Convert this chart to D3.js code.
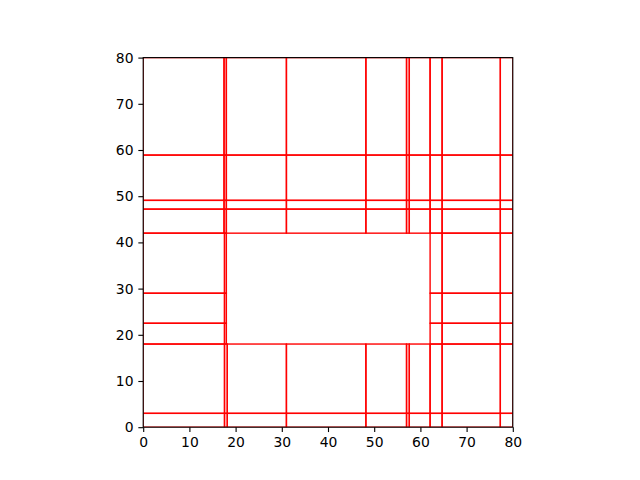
<!DOCTYPE html>
<html>
<head>
<meta charset="utf-8">
<script src="https://cdn.jsdelivr.net/npm/d3@7"></script>
<style>
  html,body{margin:0;padding:0;background:#fff;}
  svg{display:block;}
</style>
</head>
<body>
<div id="chart"></div>
<script>
// cut positions of each block (data units), every cell becomes a rectangle
const topX=[0,17.5,18.0,31,48.2,57.0,57.6,62.1,64.7,77.3,80];
const topY=[42,47.2,49.1,58.9,80];
const bottomX=[0,17.6,18.2,31,48.2,57.0,57.6,62.1,64.7,77.3,80];
const bottomY=[0,3,18];
const leftX=[0,17.6,18.0];
const leftY=[18,22.5,29,42];
const rightX=[62.1,64.7,77.3,80];
const rightY=[18,22.5,29,42];
const ticks=[0,10,20,30,40,50,60,70,80];

const W=640,H=480;
const L=143.2,R=512.8,T=57.6,B=427.2;

function cells(xs,ys){
  const out=[];
  for(let i=0;i<xs.length-1;i++)
    for(let j=0;j<ys.length-1;j++)
      out.push({x0:xs[i],x1:xs[i+1],y0:ys[j],y1:ys[j+1]});
  return out;
}
const rects=[...cells(topX,topY),...cells(bottomX,bottomY),...cells(leftX,leftY),...cells(rightX,rightY)];

const x=d3.scaleLinear().domain([0,80]).range([L,R]);
const y=d3.scaleLinear().domain([0,80]).range([B,T]);

const svg=d3.select("#chart").append("svg").attr("width",W).attr("height",H);

svg.append("defs").append("clipPath").attr("id","clip")
  .append("rect").attr("x",L).attr("y",T).attr("width",R-L).attr("height",B-T);

// ── RECTANGLES ────────────────────────────────
svg.append("g").attr("clip-path","url(#clip)")
  .selectAll("rect").data(rects).join("rect")
  .attr("x",d=>x(d.x0)).attr("y",d=>y(d.y1))
  .attr("width",d=>x(d.x1)-x(d.x0)).attr("height",d=>y(d.y0)-y(d.y1))
  .attr("fill","none").attr("stroke","#ff0000").attr("stroke-width",1.39);

// ── AXES ──────────────────────────────────────
const font="'DejaVu Sans',sans-serif";
const xAxis=svg.append("g").attr("transform",`translate(0,${B})`)
  .call(d3.axisBottom(x).tickValues(ticks).tickSize(4.86).tickPadding(4.86).tickFormat(d3.format("d")));
const yAxis=svg.append("g").attr("transform",`translate(${L},0)`)
  .call(d3.axisLeft(y).tickValues(ticks).tickSize(4.86).tickPadding(4.86).tickFormat(d3.format("d")));
[xAxis,yAxis].forEach(a=>{
  a.select(".domain").remove();
  a.selectAll(".tick line").attr("stroke","#000").attr("stroke-width",1.11);
  a.selectAll(".tick text").attr("font-family",font).attr("font-size",13.9).attr("fill","#000");
});

// spines
svg.append("rect").attr("x",L).attr("y",T).attr("width",R-L).attr("height",B-T)
  .attr("fill","none").attr("stroke","#000").attr("stroke-width",1.11);
</script>
</body>
</html>
